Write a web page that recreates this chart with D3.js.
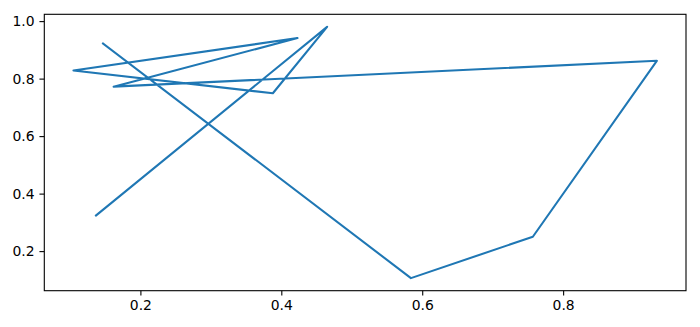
<!DOCTYPE html>
<html>
<head>
<meta charset="utf-8">
<script src="https://cdn.jsdelivr.net/npm/d3@7"></script>
<style>
  html, body { margin: 0; padding: 0; background: #fff; }
  svg text { font-family: "DejaVu Sans", sans-serif; }
</style>
</head>
<body>
<svg id="chart" width="700" height="327"></svg>
<script>
// ----------------------------
// Data
// ----------------------------
const xValues = [0.147, 0.584, 0.757, 0.933, 0.162, 0.423, 0.105, 0.388, 0.465, 0.137];
const yValues = [0.922, 0.106, 0.250, 0.862, 0.772, 0.941, 0.828, 0.749, 0.980, 0.324];

const xTicks = [0.2, 0.4, 0.6, 0.8];
const yTicks = [0.2, 0.4, 0.6, 0.8, 1.0];

// ----------------------------
// Layout
// ----------------------------
const svg = d3.select("#chart");
const width = +svg.attr("width");
const height = +svg.attr("height");
const margin = { top: 14.3, right: 14, bottom: 36.3, left: 44.3 };
const innerW = width - margin.left - margin.right;
const innerH = height - margin.top - margin.bottom;

// matplotlib-style 5% margins round the data
function padded(vals) {
  const [lo, hi] = d3.extent(vals);
  const pad = (hi - lo) * 0.05;
  return [lo - pad, hi + pad];
}

const xScale = d3.scaleLinear().domain(padded(xValues)).range([0, innerW]);
const yScale = d3.scaleLinear().domain(padded(yValues)).range([innerH, 0]);

const g = svg.append("g")
  .attr("transform", `translate(${margin.left},${margin.top})`);

// ----------------------------
// Line
// ----------------------------
const line = d3.line()
  .x((d, i) => xScale(xValues[i]))
  .y((d, i) => yScale(yValues[i]));

g.append("path")
  .datum(xValues)
  .attr("fill", "none")
  .attr("stroke", "#1f77b4")
  .attr("stroke-width", 2.08)
  .attr("stroke-linejoin", "round")
  .attr("stroke-linecap", "square")
  .attr("d", line);

// ----------------------------
// Axes
// ----------------------------
const fmt = d3.format(".1f");

const xAxis = g.append("g")
  .attr("transform", `translate(0,${innerH})`)
  .call(d3.axisBottom(xScale).tickValues(xTicks).tickFormat(fmt)
    .tickSize(4.86).tickPadding(4.86));

const yAxis = g.append("g")
  .call(d3.axisLeft(yScale).tickValues(yTicks).tickFormat(fmt)
    .tickSize(4.86).tickPadding(4.86));

[xAxis, yAxis].forEach(ax => {
  ax.select(".domain").remove();
  ax.selectAll("line").attr("stroke", "#000").attr("stroke-width", 1.1);
  ax.selectAll("text")
    .attr("fill", "#000")
    .style("font-size", "13.9px")
    .style("font-family", "'DejaVu Sans', sans-serif");
});

// frame (spines)
g.append("rect")
  .attr("x", 0)
  .attr("y", 0)
  .attr("width", innerW)
  .attr("height", innerH)
  .attr("fill", "none")
  .attr("stroke", "#000")
  .attr("stroke-width", 1.1);
</script>
</body>
</html>
